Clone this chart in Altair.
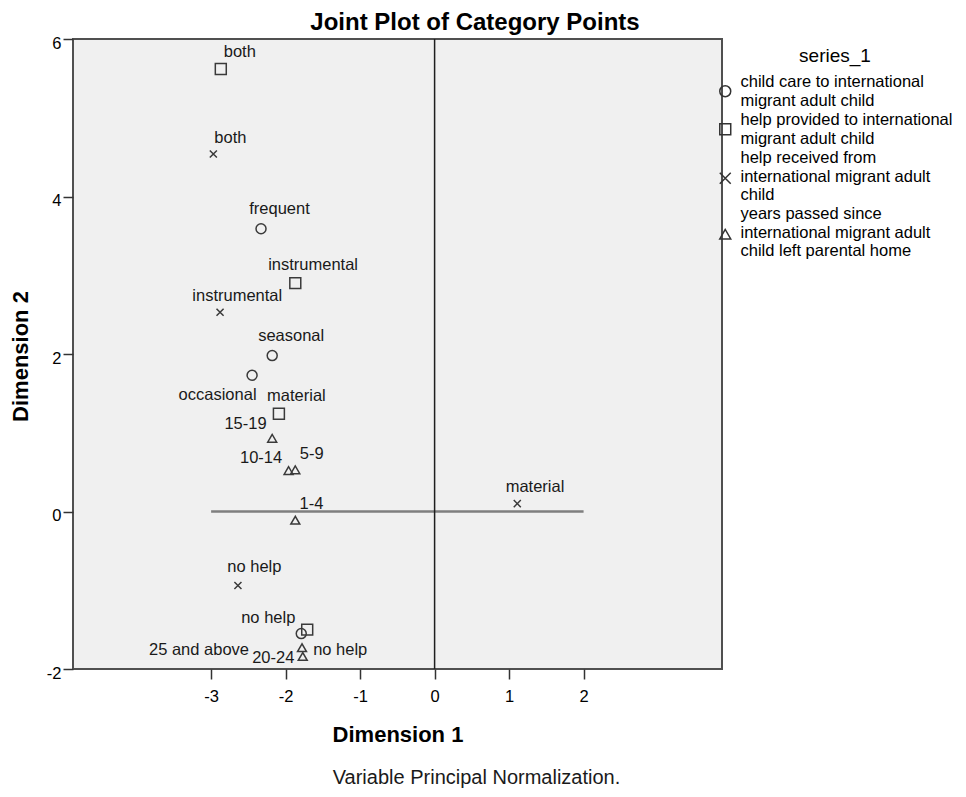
import json
import altair as alt
import pandas as pd

FONT = "Liberation Sans"

# ---------------- data ----------------
S_CARE = "child care to international migrant adult child"
S_PROV = "help provided to international migrant adult child"
S_RECV = "help received from international migrant adult child"
S_YEAR = "years passed since international migrant adult child left parental home"
series_order = [S_CARE, S_PROV, S_RECV, S_YEAR]

care_cats = ["frequent", "seasonal", "occasional", "no help"]
care_d1 = [-2.33, -2.18, -2.45, -1.79]
care_d2 = [3.59, 1.98, 1.73, -1.55]

prov_cats = ["both", "instrumental", "material", "no help"]
prov_d1 = [-2.87, -1.87, -2.09, -1.71]
prov_d2 = [5.62, 2.90, 1.24, -1.50]

recv_cats = ["both", "instrumental", "material", "no help"]
recv_d1 = [-2.97, -2.88, 1.11, -2.64]
recv_d2 = [4.54, 2.53, 0.10, -0.94]

year_cats = ["1-4", "5-9", "10-14", "15-19", "20-24", "25 and above"]
year_d1 = [-1.87, -1.87, -1.96, -2.18, -1.77, -1.78]
year_d2 = [-0.11, 0.53, 0.52, 0.93, -1.84, -1.73]

x_ticks = [-3, -2, -1, 0, 1, 2]
y_ticks = [-2, 0, 2, 4, 6]
x_domain = [-4.854, 3.858]
y_domain = [-2, 6]
origin = [0]
h_line_from, h_line_to = [-3], [2]

legend_lines = {
    S_CARE: ["child care to international", "migrant adult child"],
    S_PROV: ["help provided to international", "migrant adult child"],
    S_RECV: ["help received from", "international migrant adult", "child"],
    S_YEAR: ["years passed since", "international migrant adult", "child left parental home"],
}

# ---------------- styling ----------------
PLOT_W, PLOT_H = 649, 630
PX_X = PLOT_W / (x_domain[1] - x_domain[0])   # pixels per unit, x
PX_Y = PLOT_H / (y_domain[1] - y_domain[0])   # pixels per unit, y

shape_range = ["circle", "square", "M-1,-1L1,1M1,-1L-1,1", "triangle-up"]
size_range = [100, 120, 50, 80]
# legend symbols: the three-line entries have their symbol centred on the middle line
legend_shape_range = ["circle", "square",
                      "M-1,1L1,3M1,1L-1,3",
                      "M0,1.134L-1,2.866L1,2.866Z"]

# label placement: pixel offsets from each point
care_lab_dx = [18.5, 19, -34.5, -33]
care_lab_dy = [-15, -14.3, 24.3, -11]
prov_lab_dx = [19, 17.8, 17.5, 33]
prov_lab_dy = [-11.8, -12.7, -12.7, 25.7]
recv_lab_dx = [17, 17.2, 17.7, 16.4]
recv_lab_dy = [-11.3, -11.5, -11.3, -13.4]
year_lab_dx = [16.2, 16.5, -27.5, -26.7, -29.5, -103]
year_lab_dy = [-11, -10.3, -7.7, -9, 6.7, 7.7]

rows = []
for s, cats, d1, d2, ldx, ldy in [
    (S_CARE, care_cats, care_d1, care_d2, care_lab_dx, care_lab_dy),
    (S_PROV, prov_cats, prov_d1, prov_d2, prov_lab_dx, prov_lab_dy),
    (S_RECV, recv_cats, recv_d1, recv_d2, recv_lab_dx, recv_lab_dy),
    (S_YEAR, year_cats, year_d1, year_d2, year_lab_dx, year_lab_dy),
]:
    for c, a, b, lx, ly in zip(cats, d1, d2, ldx, ldy):
        rows.append({"series": s, "cat": c, "d1": a, "d2": b, "ldx": lx, "ldy": ly})
df = pd.DataFrame(rows)

vline_df = pd.DataFrame({"x": origin})
hline_df = pd.DataFrame({"x": h_line_from, "x2": h_line_to, "y": origin})

# legend label expression (multi-line labels)
expr = ""
for k, v in legend_lines.items():
    expr += f"datum.label == {json.dumps(k)} ? {json.dumps(v)} : "
expr += "datum.label"

x_scale = alt.Scale(domain=x_domain, nice=False, zero=False)
y_scale = alt.Scale(domain=y_domain, nice=False, zero=False)

x_axis = alt.Axis(
    values=x_ticks, title="Dimension 1", grid=False, domain=False,
    tickSize=10, tickColor="#333333", tickWidth=1.5,
    labelFont=FONT, labelFontSize=16.5, labelColor="#000000",
    labelBaseline="alphabetic", labelPadding=22, labelFlush=False,
    labelExpr="'' + datum.value",
    titleFont=FONT, titleFontSize=22, titleFontWeight="bold", titleColor="#000000",
    titleBaseline="alphabetic", titleY=72,
)
y_axis = alt.Axis(
    values=y_ticks, title="Dimension 2", grid=False, domain=False,
    tickSize=10, tickColor="#333333", tickWidth=1.5,
    labelFont=FONT, labelFontSize=16.5, labelColor="#000000",
    labelBaseline="alphabetic", labelOffset=9, labelPadding=2, labelFlush=False,
    labelExpr="'' + datum.value",
    titleFont=FONT, titleFontSize=22, titleFontWeight="bold", titleColor="#000000",
    titleBaseline="alphabetic", titleX=-46, titleY=317,
)
foot_axis = alt.Axis(
    orient="bottom", title="Variable Principal Normalization.",
    labels=False, ticks=False, domain=False, grid=False,
    titleFont=FONT, titleFontSize=20, titleFontWeight="normal", titleColor="#1a1a1a",
    titleBaseline="alphabetic", titleY=114, titleX=403,
)

shape_legend = alt.Legend(
    title="series_1", orient="none", legendX=644, legendY=8, direction="vertical",
    padding=0, offset=0,
    titleFont=FONT, titleFontSize=19, titleFontWeight="normal", titleColor="#000000",
    titleAnchor="middle", titlePadding=17,
    labelFont=FONT, labelFontSize=16.5, labelColor="#000000", labelLimit=400,
    labelOffset=7, labelExpr=expr, labelBaseline="line-bottom",
    symbolSize=120, symbolStrokeWidth=1.5, symbolStrokeColor="#333333",
    symbolFillColor="transparent", symbolOpacity=1, symbolOffset=0, rowPadding=2,
)

hrule = alt.Chart(hline_df).mark_rule(color="#7f7f7f", strokeWidth=2.5).encode(
    x=alt.X("x:Q", scale=x_scale, axis=x_axis),
    x2="x2:Q",
    y=alt.Y("y:Q", scale=y_scale, axis=y_axis),
)

point_layers = []
for s, sz in zip(series_order, size_range):
    point_layers.append(
        alt.Chart(df).transform_filter(alt.datum.series == s)
        .mark_point(filled=False, strokeWidth=1.5, color="#3a3a3a", opacity=1, size=sz)
        .encode(
            x=alt.X("d1:Q", scale=x_scale, axis=x_axis),
            y=alt.Y("d2:Q", scale=y_scale, axis=y_axis),
            shape=alt.Shape("series:N",
                            scale=alt.Scale(domain=series_order, range=shape_range),
                            legend=None),
        )
    )

# invisible layer that only carries the legend (its own shape scale)
legend_layer = alt.Chart(df).mark_point(filled=False, color="#3a3a3a", opacity=0).encode(
    x=alt.X("d1:Q", scale=x_scale, axis=x_axis),
    y=alt.Y("d2:Q", scale=y_scale, axis=y_axis),
    shape=alt.Shape("series:N",
                    scale=alt.Scale(domain=series_order, range=legend_shape_range),
                    legend=shape_legend),
)

labels = alt.Chart(df).transform_calculate(
    lx=f"datum.d1 + datum.ldx / {PX_X}",
    ly=f"datum.d2 - datum.ldy / {PX_Y}",
).mark_text(
    font=FONT, fontSize=16.5, color="#1a1a1a", align="center", baseline="alphabetic"
).encode(
    x=alt.X("lx:Q", scale=x_scale, axis=x_axis),
    y=alt.Y("ly:Q", scale=y_scale, axis=y_axis),
    text="cat:N",
)

vrule = alt.Chart(vline_df).mark_rule(color="#1e1e1e", strokeWidth=1.5).encode(
    x=alt.X("x:Q", scale=x_scale, axis=foot_axis),
)

inner = alt.layer(hrule, *point_layers, legend_layer, labels).resolve_scale(shape="independent")

chart = alt.layer(inner, vrule).resolve_scale(x="independent").properties(
    width=PLOT_W, height=PLOT_H,
    title=alt.TitleParams(
        "Joint Plot of Category Points", font=FONT, fontSize=24, fontWeight="bold",
        color="#000000", anchor="middle", dx=77.5, dy=26, offset=7, baseline="alphabetic",
    ),
    autosize=alt.AutoSizeParams(type="none"),
    padding={"left": 65, "top": 31, "right": 236, "bottom": 120},
).configure(
    background="#ffffff",
).configure_view(
    fill="#f0f0f0", stroke="#505050", strokeWidth=2,
)

chart.save("out.html", embed_options={"renderer": "svg", "actions": False})
